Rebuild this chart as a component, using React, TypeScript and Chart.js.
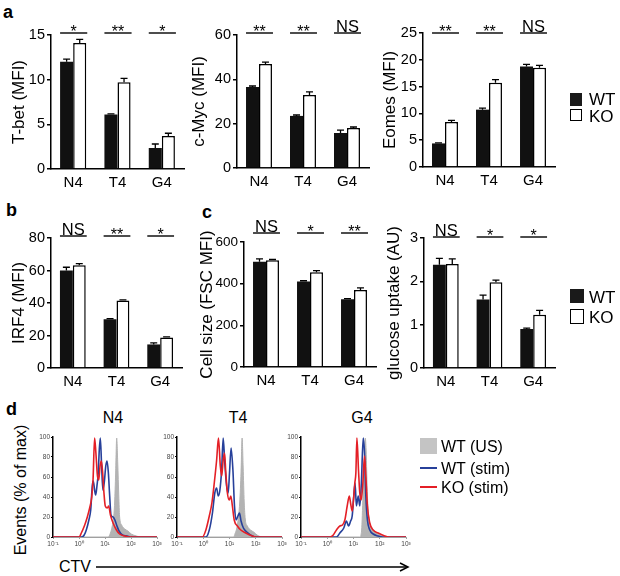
import React, { useEffect, useRef } from "react";
import { Chart, registerables } from "chart.js";
Chart.register(...registerables);

const FONT = "'Liberation Sans', Arial, Helvetica, sans-serif";

// ---------- bar data ----------
const categories = ["N4", "T4", "G4"];

const tbetWT = [12.0, 6.1, 2.35];
const tbetWTErr = [0.3, 0.08, 0.45];
const tbetKO = [14.1, 9.7, 3.7];
const tbetKOErr = [0.4, 0.45, 0.3];
const tbetSig = ["*", "**", "*"];

const mycWT = [36.5, 23.5, 15.8];
const mycWTErr = [0.5, 0.4, 1.3];
const mycKO = [46.9, 32.9, 18.0];
const mycKOErr = [0.9, 1.4, 0.5];
const mycSig = ["**", "**", "NS"];

const eomesWT = [4.4, 10.7, 18.75];
const eomesWTErr = [0.1, 0.3, 0.4];
const eomesKO = [8.4, 15.7, 18.5];
const eomesKOErr = [0.3, 0.6, 0.45];
const eomesSig = ["**", "**", "NS"];

const irf4WT = [60.0, 30.0, 14.5];
const irf4WTErr = [2.0, 0.4, 1.0];
const irf4KO = [63.2, 41.5, 18.7];
const irf4KOErr = [1.0, 0.4, 0.4];
const irf4Sig = ["NS", "**", "*"];

const cellWT = [505, 410, 325];
const cellWTErr = [14, 4, 3];
const cellKO = [513, 455, 370];
const cellKOErr = [3, 8, 10];
const cellSig = ["NS", "*", "**"];

const glucWT = [2.38, 1.58, 0.9];
const glucWTErr = [0.15, 0.1, 0.02];
const glucKO = [2.4, 1.98, 1.23];
const glucKOErr = [0.12, 0.05, 0.1];
const glucSig = ["NS", "*", "*"];

// ---------- histogram data (x = log10 CTV, y = % of max) ----------
const n4UsX = [-1, 1.12, 1.21, 1.28, 1.33, 1.37, 1.41, 1.45, 1.49, 1.53, 1.56, 1.64, 1.76, 1.88, 2.01, 2.21, 2.35, 3];
const n4UsY = [0, 0, 4, 11, 19, 34, 64, 99, 74, 41, 21, 12, 8, 6, 3, 1, 0, 0];
const n4WtX = [-1, 0.1, 0.2, 0.28, 0.38, 0.45, 0.51, 0.55, 0.6, 0.64, 0.69, 0.74, 0.78, 0.82, 0.87, 0.92, 0.97, 1.03, 1.08, 1.13, 1.18, 1.23, 1.31, 1.38, 1.46, 1.54, 1.67, 1.85, 2.0, 3];
const n4WtY = [0, 0, 2, 7, 17, 27, 51, 56, 47, 42, 51, 64, 87, 99, 71, 47, 54, 71, 76, 64, 41, 22, 20, 17, 11, 6, 2, 1, 0, 0];
const n4KoX = [-1, 0.0, 0.09, 0.22, 0.32, 0.41, 0.49, 0.54, 0.6, 0.65, 0.71, 0.76, 0.81, 0.86, 0.91, 0.96, 1.01, 1.09, 1.14, 1.21, 1.31, 1.44, 1.56, 1.76, 1.95, 3];
const n4KoY = [0, 0, 4, 12, 20, 29, 40, 57, 99, 84, 61, 57, 71, 76, 64, 44, 31, 29, 31, 22, 14, 7, 3, 1, 0, 0];

const t4UsX = [-1, 1.15, 1.22, 1.3, 1.39, 1.44, 1.48, 1.52, 1.56, 1.6, 1.68, 1.8, 1.92, 2.05, 2.25, 3];
const t4UsY = [0, 0, 4, 12, 35, 65, 99, 70, 35, 18, 11, 7, 5, 2, 0, 0];
const t4WtX = [-1, 0.1, 0.23, 0.35, 0.44, 0.51, 0.57, 0.63, 0.7, 0.76, 0.82, 0.89, 0.95, 1.0, 1.06, 1.13, 1.19, 1.25, 1.32, 1.38, 1.44, 1.53, 1.66, 1.87, 2.0, 3];
const t4WtY = [0, 0, 7, 24, 44, 49, 41, 46, 67, 99, 74, 51, 44, 64, 89, 67, 31, 17, 21, 24, 16, 9, 5, 1, 0, 0];
const t4KoX = [-1, -0.03, 0.1, 0.23, 0.33, 0.42, 0.51, 0.58, 0.65, 0.7, 0.76, 0.81, 0.86, 0.92, 0.99, 1.05, 1.11, 1.18, 1.3, 1.43, 1.62, 1.87, 2.0, 3];
const t4KoY = [0, 0, 7, 21, 34, 54, 77, 99, 71, 61, 77, 84, 64, 44, 37, 41, 31, 17, 11, 7, 4, 1, 0, 0];

const g4UsX = [-1, 1.24, 1.31, 1.36, 1.41, 1.45, 1.48, 1.53, 1.6, 1.7, 1.84, 2.0, 2.2, 3];
const g4UsY = [0, 0, 7, 41, 74, 99, 87, 41, 17, 9, 5, 2, 0, 0];
const g4WtX = [-1, 0.35, 0.48, 0.63, 0.73, 0.81, 0.89, 0.95, 1.01, 1.06, 1.11, 1.18, 1.24, 1.3, 1.37, 1.42, 1.47, 1.53, 1.62, 1.75, 1.94, 2.1, 3];
const g4WtY = [0, 0, 4, 9, 16, 11, 16, 21, 41, 54, 31, 41, 31, 54, 99, 84, 41, 17, 7, 3, 1, 0, 0];
const g4KoX = [-1, 0.1, 0.23, 0.35, 0.48, 0.58, 0.67, 0.76, 0.84, 0.9, 0.95, 1.0, 1.05, 1.09, 1.13, 1.19, 1.24, 1.29, 1.35, 1.42, 1.47, 1.53, 1.62, 1.75, 1.94, 2.19, 2.35, 3];
const g4KoY = [0, 0, 2, 7, 11, 12, 17, 31, 41, 32, 26, 37, 54, 64, 99, 67, 44, 37, 51, 81, 61, 31, 14, 7, 4, 1, 0, 0];

const histTickLabels: Record<string, string> = { "-1": "10⁻¹", "0": "10⁰", "1": "10¹", "2": "10²", "3": "10³" };

const BLUE = "#27409a";
const RED = "#e41f26";
const GREY = "#b3b3b3";

function annotPlugin(errs: number[][], sig: string[], sigGap: number) {
  return {
    id: "annot",
    afterDatasetsDraw(chart: any) {
      const ctx = chart.ctx;
      const ys = chart.scales.y;
      ctx.save();
      ctx.strokeStyle = "#000";
      ctx.lineWidth = 1.3;
      chart.data.datasets.forEach((ds: any, i: number) => {
        const meta = chart.getDatasetMeta(i);
        meta.data.forEach((el: any, j: number) => {
          const v = ds.data[j];
          const yTop = ys.getPixelForValue(v + errs[i][j]);
          ctx.beginPath();
          ctx.moveTo(el.x, el.y);
          ctx.lineTo(el.x, yTop);
          ctx.moveTo(el.x - 3.5, yTop);
          ctx.lineTo(el.x + 3.5, yTop);
          ctx.stroke();
        });
      });
      const m0 = chart.getDatasetMeta(0);
      const m1 = chart.getDatasetMeta(1);
      const yLine = chart.chartArea.top - sigGap;
      ctx.fillStyle = "#000";
      ctx.textAlign = "center";
      ctx.textBaseline = "alphabetic";
      sig.forEach((s: string, j: number) => {
        const a = m0.data[j];
        const b = m1.data[j];
        const x0 = a.x - a.width / 2;
        const x1 = b.x + b.width / 2 + 1;
        ctx.beginPath();
        ctx.lineWidth = 1.4;
        ctx.moveTo(x0, yLine);
        ctx.lineTo(x1, yLine);
        ctx.stroke();
        const xc = (x0 + x1) / 2;
        if (s === "NS") {
          ctx.font = `16.5px ${FONT}`;
          ctx.fillText(s, xc, yLine - 1.5);
        } else {
          ctx.font = `16px ${FONT}`;
          ctx.fillText(s, xc, yLine + 3.5);
        }
      });
      ctx.restore();
    },
  };
}

type BarProps = {
  L: number; R: number; T: number; B: number; titleX: number; title: string;
  yMax: number; yStep: number; wt: number[]; wtErr: number[]; ko: number[]; koErr: number[];
  sig: string[]; sigGap: number; tickSize?: number;
};

function BarPanel(p: BarProps) {
  const ref = useRef<HTMLCanvasElement>(null);
  const cx = Math.round(p.titleX - 12);
  const cy = p.T - 45;
  const W = p.R + 6 - cx;
  const H = p.B + 28 - cy;
  useEffect(() => {
    const padLeft = p.titleX - 8.5 - cx;
    const yw = p.L - cx - padLeft;
    const chart = new Chart(ref.current as HTMLCanvasElement, {
      type: "bar",
      data: {
        labels: categories,
        datasets: [
          { label: "WT", data: p.wt, backgroundColor: "#111", borderWidth: 0, categoryPercentage: 0.59, barPercentage: 1 },
          { label: "KO", data: p.ko, backgroundColor: "#fff", borderColor: "#000", borderWidth: 1.5, categoryPercentage: 0.59, barPercentage: 1 },
        ],
      },
      options: {
        animation: false,
        responsive: false,
        maintainAspectRatio: false,
        devicePixelRatio: 1,
        layout: { padding: { left: padLeft, top: p.T - cy, right: cx + W - p.R, bottom: 0 } },
        plugins: { legend: { display: false }, tooltip: { enabled: false } },
        scales: {
          x: {
            type: "category",
            offset: true,
            grid: { display: false, drawTicks: false },
            border: { display: true, color: "#000", width: 1.5 },
            ticks: { font: { family: FONT, size: 15 }, color: "#000", padding: 5 },
            afterFit: (s: any) => { s.height = cy + H - p.B; },
          },
          y: {
            min: 0,
            max: p.yMax,
            ticks: { stepSize: p.yStep, font: { family: FONT, size: p.tickSize ?? 14.5 }, color: "#000", padding: 2 },
            grid: { drawOnChartArea: false, drawTicks: true, tickLength: 4, color: "#000", lineWidth: 1.5 },
            border: { display: true, color: "#000", width: 1.5 },
            title: { display: true, text: p.title, font: { family: FONT, size: 17, lineHeight: 1 }, color: "#000", padding: 0 },
            afterFit: (s: any) => { s.width = yw; },
          },
        },
      } as any,
      plugins: [annotPlugin([p.wtErr, p.koErr], p.sig, p.sigGap)],
    });
    return () => chart.destroy();
  }, []);
  return (
    <canvas ref={ref} width={W} height={H}
      style={{ position: "absolute", left: cx, top: cy, width: W, height: H }} />
  );
}

type HistProps = {
  L: number; R: number; T: number; B: number;
  usX: number[]; usY: number[]; wtX: number[]; wtY: number[]; koX: number[]; koY: number[];
};

function pts(xs: number[], ys: number[]) {
  return xs.map((x, i) => ({ x, y: ys[i] }));
}

function HistPanel(p: HistProps) {
  const ref = useRef<HTMLCanvasElement>(null);
  const cx = p.L - 20;
  const cy = p.T - 8;
  const W = p.R + 10 - cx;
  const H = p.B + 16 - cy;
  useEffect(() => {
    const chart = new Chart(ref.current as HTMLCanvasElement, {
      type: "line",
      data: {
        datasets: [
          { label: "KO (stim)", data: pts(p.koX, p.koY), borderColor: RED, borderWidth: 1.6, pointRadius: 0, fill: false, cubicInterpolationMode: "monotone" },
          { label: "WT (stim)", data: pts(p.wtX, p.wtY), borderColor: BLUE, borderWidth: 1.6, pointRadius: 0, fill: false, cubicInterpolationMode: "monotone" },
          { label: "WT (US)", data: pts(p.usX, p.usY), borderColor: GREY, backgroundColor: GREY, borderWidth: 1, pointRadius: 0, fill: "origin", cubicInterpolationMode: "monotone" },
        ],
      },
      options: {
        animation: false,
        responsive: false,
        maintainAspectRatio: false,
        devicePixelRatio: 1,
        layout: { padding: { left: 0, top: p.T - cy, right: cx + W - p.R, bottom: 0 } },
        plugins: { legend: { display: false }, tooltip: { enabled: false } },
        scales: {
          x: {
            type: "linear",
            min: -1,
            max: 3,
            ticks: { stepSize: 1, font: { family: FONT, size: 6.5 }, color: "#444", padding: 1, maxRotation: 0,
              callback: (v: any) => histTickLabels[String(v)] ?? "" },
            grid: { drawOnChartArea: false, drawTicks: true, tickLength: 2, color: "#888", lineWidth: 0.8 },
            border: { display: true, color: "#888", width: 0.8 },
            afterFit: (s: any) => { s.height = cy + H - p.B; },
          },
          y: {
            min: 0,
            max: 100,
            ticks: { stepSize: 20, font: { family: FONT, size: 6.5 }, color: "#444", padding: 1 },
            grid: { drawOnChartArea: false, drawTicks: true, tickLength: 2, color: "#000", lineWidth: 1 },
            border: { display: true, color: "#000", width: 1.5 },
            afterFit: (s: any) => { s.width = p.L - cx; },
          },
        },
      } as any,
    });
    return () => chart.destroy();
  }, []);
  return (
    <canvas ref={ref} width={W} height={H}
      style={{ position: "absolute", left: cx, top: cy, width: W, height: H }} />
  );
}

function Txt(props: { x: number; y: number; size: number; bold?: boolean; children: any; center?: boolean }) {
  return (
    <div style={{
      position: "absolute", left: props.x, top: props.y, fontSize: props.size,
      fontWeight: props.bold ? "bold" : "normal", lineHeight: 1, whiteSpace: "nowrap",
      transform: props.center ? "translate(-50%, -50%)" : "translate(0, -50%)", color: "#000",
    }}>{props.children}</div>
  );
}

export default function App() {
  return (
    <div style={{ position: "fixed", left: 0, top: 0, width: 620, height: 576, background: "#fff", fontFamily: FONT, overflow: "hidden" }}>
      {/* panel labels */}
      <Txt x={3} y={12} size={18} bold>a</Txt>
      <Txt x={6} y={210} size={18} bold>b</Txt>
      <Txt x={202} y={212} size={18} bold>c</Txt>
      <Txt x={6} y={409} size={18} bold>d</Txt>

      <BarPanel L={51} R={184} T={35} B={169} titleX={19} title="T-bet (MFI)" yMax={15} yStep={5}
        wt={tbetWT} wtErr={tbetWTErr} ko={tbetKO} koErr={tbetKOErr} sig={tbetSig} sigGap={2} />
      <BarPanel L={237} R={369} T={35} B={168} titleX={199} title="c-Myc (MFI)" yMax={60} yStep={20}
        wt={mycWT} wtErr={mycWTErr} ko={mycKO} koErr={mycKOErr} sig={mycSig} sigGap={2} />
      <BarPanel L={423} R={555} T={33} B={167} titleX={390} title="Eomes (MFI)" yMax={25} yStep={5}
        wt={eomesWT} wtErr={eomesWTErr} ko={eomesKO} koErr={eomesKOErr} sig={eomesSig} sigGap={0} />

      <BarPanel L={51} R={182} T={238} B={368} titleX={19} title="IRF4 (MFI)" yMax={80} yStep={20}
        wt={irf4WT} wtErr={irf4WTErr} ko={irf4KO} koErr={irf4KOErr} sig={irf4Sig} sigGap={2} />
      <BarPanel L={244} R={376} T={242} B={367} titleX={207} title="Cell size (FSC MFI)" yMax={600} yStep={200}
        wt={cellWT} wtErr={cellWTErr} ko={cellKO} koErr={cellKOErr} sig={cellSig} sigGap={9} tickSize={13.5} />
      <BarPanel L={424} R={555} T={238} B={368} titleX={394} title="glucose uptake (AU)" yMax={3} yStep={1}
        wt={glucWT} wtErr={glucWTErr} ko={glucKO} koErr={glucKOErr} sig={glucSig} sigGap={1} />

      {/* legend a */}
      <div style={{ position: "absolute", left: 570, top: 93, width: 12, height: 13, background: "#1a1a1a" }} />
      <div style={{ position: "absolute", left: 570, top: 109, width: 12, height: 12, border: "1.5px solid #000", boxSizing: "border-box", background: "#fff" }} />
      <Txt x={589} y={99} size={17}>WT</Txt>
      <Txt x={589} y={116} size={17}>KO</Txt>

      {/* legend c */}
      <div style={{ position: "absolute", left: 570, top: 289, width: 14, height: 14, background: "#1a1a1a" }} />
      <div style={{ position: "absolute", left: 570, top: 309, width: 14, height: 15, border: "1.5px solid #000", boxSizing: "border-box", background: "#fff" }} />
      <Txt x={589} y={297} size={17}>WT</Txt>
      <Txt x={589} y={317} size={17}>KO</Txt>

      {/* panel d */}
      <Txt x={113} y={418} size={16} center>N4</Txt>
      <Txt x={238} y={418} size={16} center>T4</Txt>
      <Txt x={362} y={418} size={16} center>G4</Txt>
      <div style={{ position: "absolute", left: 21, top: 490, fontSize: 16, lineHeight: 1, whiteSpace: "nowrap", transform: "translate(-50%, -50%) rotate(-90deg)" }}>Events (% of max)</div>

      <HistPanel L={53} R={157} T={437} B={537} usX={n4UsX} usY={n4UsY} wtX={n4WtX} wtY={n4WtY} koX={n4KoX} koY={n4KoY} />
      <HistPanel L={177} R={282} T={437} B={537} usX={t4UsX} usY={t4UsY} wtX={t4WtX} wtY={t4WtY} koX={t4KoX} koY={t4KoY} />
      <HistPanel L={301} R={406} T={437} B={537} usX={g4UsX} usY={g4UsY} wtX={g4WtX} wtY={g4WtY} koX={g4KoX} koY={g4KoY} />

      <Txt x={59} y={567} size={16}>CTV</Txt>
      <svg style={{ position: "absolute", left: 96, top: 560 }} width={318} height={14}>
        <line x1={0} y1={7} x2={311} y2={7} stroke="#000" strokeWidth={1.5} />
        <polyline points="304,3 312,7 304,11" fill="none" stroke="#000" strokeWidth={1.5} />
      </svg>

      {/* legend d */}
      <div style={{ position: "absolute", left: 420, top: 438, width: 17, height: 16, background: "#c4c4c4" }} />
      <div style={{ position: "absolute", left: 420, top: 467, width: 17, height: 1.6, background: BLUE }} />
      <div style={{ position: "absolute", left: 420, top: 486, width: 17, height: 1.6, background: RED }} />
      <Txt x={441} y={447} size={16}>WT (US)</Txt>
      <Txt x={441} y={469} size={16}>WT (stim)</Txt>
      <Txt x={441} y={488} size={16}>KO (stim)</Txt>
    </div>
  );
}
